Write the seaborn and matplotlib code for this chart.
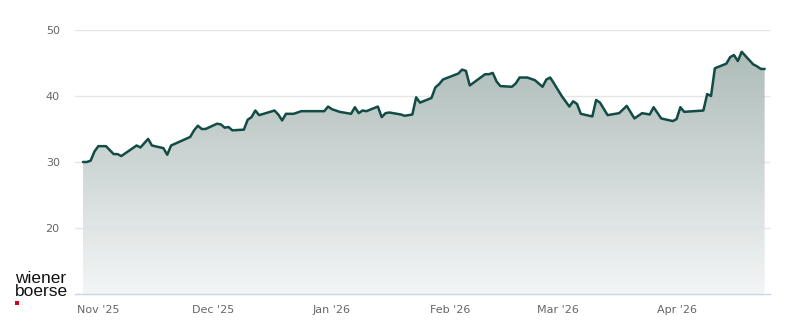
import matplotlib
matplotlib.use("Agg")
import matplotlib.pyplot as plt
import matplotlib.dates as mdates
from matplotlib.colors import LinearSegmentedColormap
from matplotlib.patches import Rectangle
import numpy as np
import pandas as pd
import seaborn as sns

# ---- data ----
dates = [
    "2025-10-28", "2025-10-29", "2025-10-30", "2025-10-31", "2025-11-01", "2025-11-03",
    "2025-11-05", "2025-11-06", "2025-11-07", "2025-11-11", "2025-11-12", "2025-11-14",
    "2025-11-15", "2025-11-18", "2025-11-19", "2025-11-20", "2025-11-25", "2025-11-26",
    "2025-11-27", "2025-11-28", "2025-11-29", "2025-12-02", "2025-12-03", "2025-12-04",
    "2025-12-05", "2025-12-06", "2025-12-09", "2025-12-10", "2025-12-11", "2025-12-12",
    "2025-12-13", "2025-12-17", "2025-12-18", "2025-12-19", "2025-12-20", "2025-12-22",
    "2025-12-24", "2025-12-30", "2025-12-31", "2026-01-01", "2026-01-03", "2026-01-06",
    "2026-01-07", "2026-01-08", "2026-01-09", "2026-01-10", "2026-01-13", "2026-01-14",
    "2026-01-15", "2026-01-16", "2026-01-19", "2026-01-20", "2026-01-22", "2026-01-23",
    "2026-01-24", "2026-01-27", "2026-01-28", "2026-01-29", "2026-01-30", "2026-02-03",
    "2026-02-04", "2026-02-05", "2026-02-06", "2026-02-10", "2026-02-11", "2026-02-12",
    "2026-02-13", "2026-02-14", "2026-02-17", "2026-02-18", "2026-02-19", "2026-02-21",
    "2026-02-23", "2026-02-25", "2026-02-26", "2026-02-27", "2026-02-28", "2026-03-02",
    "2026-03-04", "2026-03-05", "2026-03-06", "2026-03-07", "2026-03-10", "2026-03-11",
    "2026-03-12", "2026-03-14", "2026-03-17", "2026-03-19", "2026-03-21", "2026-03-23",
    "2026-03-25", "2026-03-26", "2026-03-28", "2026-03-31", "2026-04-01", "2026-04-02",
    "2026-04-03", "2026-04-08", "2026-04-09", "2026-04-10", "2026-04-11", "2026-04-14",
    "2026-04-15", "2026-04-16", "2026-04-17", "2026-04-18", "2026-04-21", "2026-04-22",
    "2026-04-23", "2026-04-24",
]
prices = [
    30.0, 30.0, 30.2, 31.6, 32.4, 32.4,
    31.2, 31.2, 30.9, 32.5, 32.2, 33.5,
    32.5, 32.1, 31.1, 32.5, 33.8, 34.8,
    35.5, 35.0, 35.0, 35.8, 35.7, 35.2,
    35.3, 34.8, 34.9, 36.4, 36.8, 37.8,
    37.1, 37.8, 37.2, 36.3, 37.3, 37.3,
    37.7, 37.7, 38.4, 38.0, 37.6, 37.3,
    38.3, 37.4, 37.8, 37.7, 38.4, 36.8,
    37.4, 37.5, 37.2, 37.0, 37.2, 39.8,
    39.0, 39.7, 41.3, 41.8, 42.5, 43.4,
    44.0, 43.8, 41.6, 43.3, 43.3, 43.5,
    42.2, 41.5, 41.4, 41.9, 42.8, 42.8,
    42.4, 41.4, 42.5, 42.8, 41.9, 40.0,
    38.4, 39.2, 38.8, 37.3, 36.9, 39.4,
    39.0, 37.1, 37.4, 38.5, 36.6, 37.4,
    37.2, 38.3, 36.6, 36.2, 36.5, 38.3,
    37.6, 37.8, 40.3, 40.0, 44.2, 44.9,
    45.9, 46.2, 45.3, 46.7, 44.8, 44.5,
    44.1, 44.1,
]
y_ticks = [20, 30, 40, 50]
month_ticks = ["2025-11-01", "2025-12-01", "2026-01-01", "2026-02-01", "2026-03-01", "2026-04-01"]
month_labels = ["Nov '25", "Dec '25", "Jan '26", "Feb '26", "Mar '26", "Apr '26"]
logo_text = "wiener\nboerse"

df = pd.DataFrame({"date": pd.to_datetime(dates), "price": prices})

sns.set_style("white")
plt.rcParams["font.family"] = ["DejaVu Sans"]

W, H = 800, 324
fig = plt.figure(figsize=(W / 100, H / 100), dpi=100)
ax = fig.add_axes([75 / W, 30 / H, 695 / W, 264 / H])

y_min, y_max = 10, 50
origin = pd.Timestamp("2025-11-01")
x0 = mdates.date2num(origin - pd.Timedelta(days=6.09))
x1 = mdates.date2num(origin + pd.Timedelta(days=175.4))

# gradient area under the line
fill = ax.fill_between(df["date"], df["price"], y_min, color="none", lw=0)
cmap = LinearSegmentedColormap.from_list("g", ["#9eafac", "#f2f5f5"])
grad = np.linspace(0, 1, 256).reshape(-1, 1)
im = ax.imshow(grad, extent=[x0, x1, y_min, y_max], origin="upper", aspect="auto",
               cmap=cmap, alpha=0.9, zorder=1)
im.set_clip_path(fill.get_paths()[0], transform=ax.transData)

sns.lineplot(data=df, x="date", y="price", ax=ax, color="#134b45", lw=1.8, zorder=3)

ax.set_xlim(x0, x1)
ax.set_ylim(y_min, y_max)
ax.set_xlabel("")
ax.set_ylabel("")

ax.set_yticks(y_ticks)
ax.set_yticklabels([str(t) for t in y_ticks])
ax.set_xticks(pd.to_datetime(month_ticks))
ax.set_xticklabels(month_labels)
ax.yaxis.grid(True, color="#e6e6e6", lw=1, zorder=0)
ax.xaxis.grid(False)
ax.set_axisbelow(True)

for s in ["top", "right", "left"]:
    ax.spines[s].set_visible(False)
ax.spines["bottom"].set_color("#ccd6eb")
ax.spines["bottom"].set_linewidth(1)

ax.tick_params(axis="y", length=0, pad=11, labelsize=8, labelcolor="#666666")
ax.tick_params(axis="x", length=6.5, width=1, color="#ccd6eb", direction="out",
               pad=1.5, labelsize=8, labelcolor="#666666")

# logo (one two-line text block)
fig.text(15 / W, 1 - 299 / H, logo_text, fontsize=12.5, family="Liberation Sans",
         color="#111111", va="bottom", ha="left", linespacing=0.82)
fig.patches.append(Rectangle((15 / W, 1 - 305 / H), 4 / W, 4 / H, transform=fig.transFigure,
                             facecolor="#d0021b", edgecolor="none"))

fig.savefig("out.png", dpi=100)
